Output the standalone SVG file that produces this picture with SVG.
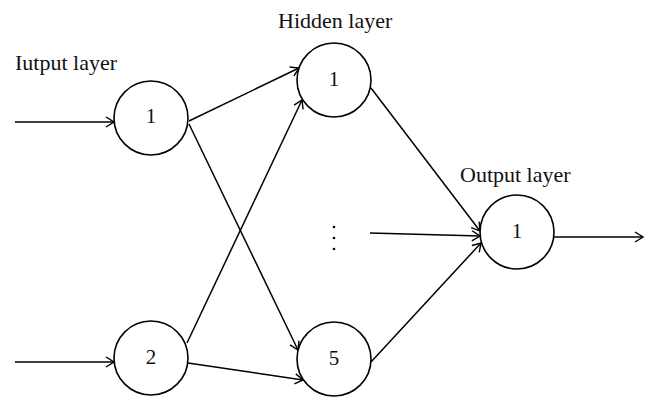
<svg xmlns="http://www.w3.org/2000/svg" width="658" height="409" viewBox="0 0 658 409">
<style>
.node circle{fill:#fff;stroke:#000;stroke-width:1.6}
text{font-family:"Liberation Serif","DejaVu Serif",serif;font-size:22px;fill:#111}
.num{text-anchor:middle;font-size:21px}
#connectors line{stroke:#000;stroke-width:1.5;fill:none;marker-end:url(#arr)}
</style>
<defs>
<marker id="arr" viewBox="0 0 12 12" refX="11" refY="6" markerWidth="12" markerHeight="12" markerUnits="userSpaceOnUse" orient="auto">
<path d="M3,1 L11,6 L3,11" fill="none" stroke="#000" stroke-width="1.4"/>
</marker>
</defs>
<rect width="658" height="409" fill="#fff"/>
<g id="labels">
<text x="15" y="70">Iutput layer</text>
<text x="278" y="28">Hidden layer</text>
<text x="460" y="182">Output layer</text>
</g>
<g id="connectors">
<line x1="15" y1="122" x2="114" y2="122"/>
<line x1="15" y1="362" x2="114" y2="362"/>
<line x1="189" y1="121" x2="299" y2="68"/>
<line x1="189" y1="124" x2="298" y2="350"/>
<line x1="187" y1="343" x2="302" y2="100"/>
<line x1="188" y1="363" x2="303" y2="380"/>
<line x1="371" y1="88" x2="480" y2="231"/>
<line x1="370" y1="233" x2="480" y2="236"/>
<line x1="371" y1="362" x2="481" y2="243"/>
<line x1="554" y1="237" x2="643" y2="237"/>
</g>
<g id="input1" class="node"><circle cx="151" cy="118" r="37"/><text class="num" x="151" y="123">1</text></g>
<g id="input2" class="node"><circle cx="151" cy="358" r="37"/><text class="num" x="151" y="364">2</text></g>
<g id="hidden1" class="node"><circle cx="334" cy="80" r="37"/><text class="num" x="334" y="86">1</text></g>
<g id="hidden5" class="node"><circle cx="334" cy="359" r="37"/><text class="num" x="334" y="365">5</text></g>
<g id="output1" class="node"><circle cx="517" cy="232" r="37"/><text class="num" x="517" y="238">1</text></g>
<g id="dots">
<circle cx="334" cy="227" r="1.3" fill="#000"/>
<circle cx="334" cy="238" r="1.3" fill="#000"/>
<circle cx="334" cy="249" r="1.3" fill="#000"/>
</g>
</svg>
